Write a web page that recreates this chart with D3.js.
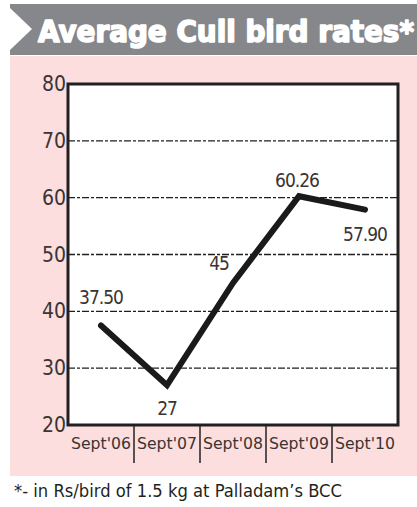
<!DOCTYPE html>
<html>
<head>
<meta charset="utf-8">
<script src="https://cdn.jsdelivr.net/npm/d3@7"></script>
<style>
  body { margin: 0; background: #fff; }
</style>
</head>
<body>
<div id="chart"></div>
<script>
// chart data
const categories = ["Sept'06", "Sept'07", "Sept'08", "Sept'09", "Sept'10"];
const values = [37.50, 27, 45, 60.26, 57.90];
const valueLabels = ["37.50", "27", "45", "60.26", "57.90"];
const yTicks = [20, 30, 40, 50, 60, 70, 80];

const width = 417, height = 507;
const plot = { left: 68, right: 398, top: 84, bottom: 425 };

const svg = d3.select("#chart").append("svg")
    .attr("width", width)
    .attr("height", height);

// pink panel
svg.append("rect")
    .attr("x", 10).attr("y", 56)
    .attr("width", width - 10).attr("height", 420)
    .attr("fill", "#fbdedd");

// header band
svg.append("rect")
    .attr("x", 10).attr("y", 4)
    .attr("width", width - 10).attr("height", 51)
    .attr("fill", "#86878b");

// white chevron at the left of header
svg.append("path")
    .attr("d", "M10,8 L32,29 L10,50 Z")
    .attr("fill", "#fff");

svg.append("text")
    .attr("x", 38).attr("y", 42)
    .attr("textLength", 376)
    .attr("lengthAdjust", "spacingAndGlyphs")
    .attr("font-family", "'DejaVu Sans Condensed', 'DejaVu Sans', sans-serif")
    .attr("font-weight", "bold")
    .attr("font-size", 31)
    .attr("fill", "#fff")
    .attr("stroke", "#fff")
    .attr("stroke-width", 1.6)
    .attr("stroke-linejoin", "round")
    .text("Average Cull bird rates*");

const x = d3.scaleBand()
    .domain(categories)
    .range([plot.left, plot.right]);

const y = d3.scaleLinear()
    .domain([20, 80])
    .range([plot.bottom, plot.top]);

// plot background
svg.append("rect")
    .attr("x", plot.left).attr("y", plot.top)
    .attr("width", plot.right - plot.left)
    .attr("height", plot.bottom - plot.top)
    .attr("fill", "#fff");

// dashed gridlines
svg.append("g")
    .selectAll("line")
    .data(yTicks.filter(d => d > 20 && d < 80))
    .enter().append("line")
    .attr("x1", plot.left).attr("x2", plot.right)
    .attr("y1", d => y(d)).attr("y2", d => y(d))
    .attr("stroke", "#1e1e1e")
    .attr("stroke-width", 1.4)
    .attr("stroke-dasharray", "7,2,3,2");

// y tick labels
svg.append("g")
    .selectAll("text")
    .data(yTicks)
    .enter().append("text")
    .attr("x", plot.left - 2)
    .attr("y", d => y(d) + 7)
    .attr("text-anchor", "end")
    .attr("font-family", "'DejaVu Sans Condensed', 'DejaVu Sans', sans-serif")
    .attr("font-size", 21)
    .attr("fill", "#3a3434")
    .text(d => d);

// category dividers below plot
svg.append("g")
    .selectAll("line")
    .data(categories.slice(1))
    .enter().append("line")
    .attr("x1", d => x(d)).attr("x2", d => x(d))
    .attr("y1", plot.bottom).attr("y2", plot.bottom + 38)
    .attr("stroke", "#222")
    .attr("stroke-width", 1.5);

// category labels
svg.append("g")
    .selectAll("text")
    .data(categories)
    .enter().append("text")
    .attr("x", d => x(d) + x.bandwidth() / 2)
    .attr("y", plot.bottom + 24)
    .attr("text-anchor", "middle")
    .attr("textLength", 60)
    .attr("lengthAdjust", "spacingAndGlyphs")
    .attr("font-family", "'DejaVu Sans Condensed', 'DejaVu Sans', sans-serif")
    .attr("font-size", 15)
    .attr("fill", "#3a3434")
    .text(d => d);

// plot frame
svg.append("rect")
    .attr("x", plot.left).attr("y", plot.top)
    .attr("width", plot.right - plot.left)
    .attr("height", plot.bottom - plot.top)
    .attr("fill", "none")
    .attr("stroke", "#231f20")
    .attr("stroke-width", 3);

// data line
const line = d3.line()
    .x((d, i) => x(categories[i]) + x.bandwidth() / 2)
    .y(d => y(d));

svg.append("path")
    .datum(values)
    .attr("d", line)
    .attr("fill", "none")
    .attr("stroke", "#1a1a1a")
    .attr("stroke-width", 6)
    .attr("stroke-linejoin", "miter")
    .attr("stroke-linecap", "round");

// value labels (offsets in px relative to point)
const labelOffsets = [[0, -22], [0, 30], [-14, -13], [-2, -9], [0, 31]];
svg.append("g")
    .selectAll("text")
    .data(values)
    .enter().append("text")
    .attr("x", (d, i) => x(categories[i]) + x.bandwidth() / 2 + labelOffsets[i][0])
    .attr("y", (d, i) => y(d) + labelOffsets[i][1])
    .attr("text-anchor", "middle")
    .attr("font-family", "'DejaVu Sans Condensed', 'DejaVu Sans', sans-serif")
    .attr("font-size", 19)
    .attr("letter-spacing", -1)
    .attr("fill", "#3a3434")
    .text((d, i) => valueLabels[i]);

// footnote
svg.append("text")
    .attr("x", 14).attr("y", 497)
    .attr("textLength", 328)
    .attr("lengthAdjust", "spacingAndGlyphs")
    .attr("font-family", "'DejaVu Sans Condensed', 'DejaVu Sans', sans-serif")
    .attr("font-size", 17)
    .attr("fill", "#231f20")
    .text("*- in Rs/bird of 1.5 kg at Palladam\u2019s BCC");
</script>
</body>
</html>
